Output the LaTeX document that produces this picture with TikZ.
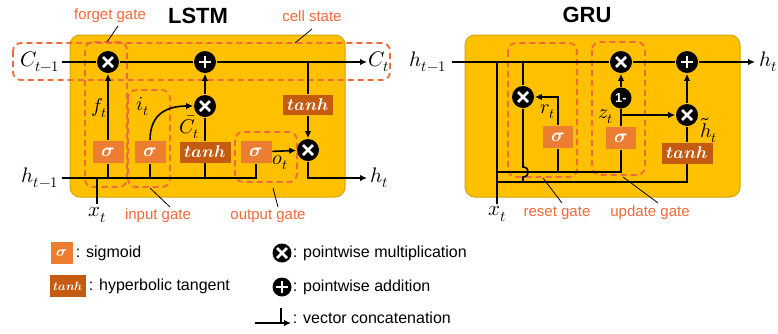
\documentclass[tikz,border=0pt]{standalone}
\usepackage{fontspec}
\usepackage{unicode-math}
\setmainfont{Liberation Sans}
\usetikzlibrary{arrows.meta}
\definecolor{cellbg}{HTML}{FFC000}
\definecolor{cellbd}{HTML}{D9A300}
\definecolor{sigc}{HTML}{ED7D31}
\definecolor{tanc}{HTML}{C55A11}
\definecolor{gatec}{HTML}{F26A3C}
\begin{document}
\begin{tikzpicture}[x=1pt,y=-1pt,
 line width=1.6pt,
 arr/.style={-{Latex[length=7pt,width=6.5pt]}},
 cellbox/.style={fill=cellbg,draw=cellbd,line width=1pt,rounded corners=10pt},
 gatebox/.style={draw=gatec,dash pattern=on 6pt off 4pt,line width=1.8pt,rounded corners=8pt},
 sigbox/.style={fill=sigc,text=white,minimum width=31pt,minimum height=22pt,inner sep=0pt,font=\fontsize{19}{19}\selectfont},
 tanbox/.style={fill=tanc,text=white,minimum width=51pt,minimum height=21pt,inner sep=0pt,font=\fontsize{17}{17}\selectfont},
 multnode/.style={circle,fill=black,minimum size=22pt,inner sep=0pt,path picture={\draw[white,line width=2.6pt] ([shift={(-5pt,-5pt)}]path picture bounding box.center) -- ([shift={(5pt,5pt)}]path picture bounding box.center) ([shift={(-5pt,5pt)}]path picture bounding box.center) -- ([shift={(5pt,-5pt)}]path picture bounding box.center);}},
 plusnode/.style={circle,fill=black,minimum size=22pt,inner sep=0pt,path picture={\draw[white,line width=2.6pt] ([shift={(-6pt,0pt)}]path picture bounding box.center) -- ([shift={(6pt,0pt)}]path picture bounding box.center) ([shift={(0pt,6pt)}]path picture bounding box.center) -- ([shift={(0pt,-6pt)}]path picture bounding box.center);}},
 onenode/.style={circle,fill=black,minimum size=21pt,inner sep=0pt,text=white,font=\bfseries\fontsize{13}{13}\selectfont},
 mlab/.style={inner sep=1pt,font=\fontsize{21}{21}\selectfont},
 slab/.style={inner sep=1pt,font=\fontsize{20}{20}\selectfont},
 glab/.style={inner sep=1pt,text=gatec,font=\fontsize{15}{15}\selectfont},
 ttl/.style={inner sep=1pt,font=\bfseries\fontsize{22}{22}\selectfont},
 leg/.style={inner sep=0pt,anchor=west,font=\fontsize{16}{16}\selectfont},
 ptr/.style={line width=0.8pt}]
\useasboundingbox (0,0) rectangle (778,333);

% ================= LSTM =================
\draw[cellbox] (70,35) rectangle (345,197);
\node[ttl] (tl) at (198,16) {LSTM};
% gates (dashed)
\draw[gatebox] (13,43) rectangle (390,80);
\draw[gatebox] (85,42) rectangle (127,187);
\draw[gatebox] (128,90) rectangle (170,187);
\draw[gatebox] (235,132) rectangle (297,182);

\node[multnode] (fm) at (108,62) {};
\node[plusnode] (pl) at (205,62) {};
\node[multnode] (im) at (205,106) {};
\node[multnode] (om) at (308,150) {};
\node[sigbox] (sf) at (108,152) {$\symbfit{\sigma}$};
\node[sigbox] (si) at (150,152) {$\symbfit{\sigma}$};
\node[tanbox] (ta) at (205,152) {$\symbfit{tanh}$};
\node[sigbox] (so) at (256,152) {$\symbfit{\sigma}$};
\node[tanbox,minimum width=50pt,minimum height=20pt] (tt) at (308,105) {$\symbfit{tanh}$};

\coordinate (cs) at (62,62);
\coordinate (ce) at (367,62);
\coordinate (hs) at (62,178);
\coordinate (he) at (367,178);
\coordinate (xb) at (97,204);

\node[mlab] (lc1) at (40,62) {$C_{t-1}$};
\node[mlab] (lc2) at (379,62) {$C_t$};
\node[mlab] (lh1) at (40,178) {$h_{t-1}$};
\node[mlab] (lh2) at (379,178) {$h_t$};
\node[mlab] (lx) at (97,215) {$x_t$};
\node[slab] (lf) at (99,108) {$f_t$};
\node[slab] (li) at (143,106) {$i_t$};
\node[slab] (lcb) at (189,127) {$\bar{C}_t$};
\node[slab] (lo) at (280,163) {$o_t$};

\draw[arr] (cs) -- (fm) -- (pl) -- (ce);
\draw (hs) -- (hs -| so.south) -- (so.south);
\draw[arr] (sf) -- (fm);
\draw (sf.south) -- (sf.south |- hs);
\draw (si.south) -- (si.south |- hs);
\draw (ta.south) -- (ta.south |- hs);
\draw (xb) -- (xb |- hs);
\draw[arr] (si.north) .. controls +(0,-28) and +(-24,0) .. (im.west);
\draw (ta) -- (im);
\draw[arr] (im) -- (pl);
\draw (tt.north |- pl) -- (tt.north);
\draw[arr] (tt) -- (om);
\draw[arr] (so) -- (om);
\draw[arr] (om) |- (he);

\node[glab] (gf) at (110,16) {forget gate};
\node[glab] (gc) at (312,16) {cell state};
\node[glab] (gi) at (158,216) {input gate};
\node[glab] (go) at (268,216) {output gate};
\coordinate (pf) at (107,42);
\coordinate (pc) at (295,43);
\coordinate (pi) at (150,188);
\coordinate (po) at (273,188);
\draw[ptr] (118,26) -- (pf);
\draw[ptr] (312,29) -- (pc);
\draw[ptr] (170,207) -- (pi);
\draw[ptr] (278,207) -- (po);

% ================= GRU =================
\draw[cellbox] (465,35) rectangle (740,197);
\node[ttl] (tg) at (587,15) {GRU};
\draw[gatebox] (508,43) rectangle (577,177);
\draw[gatebox] (592,42) rectangle (645,175);

\node[multnode] (tm) at (621,62) {};
\node[plusnode] (gp) at (687,62) {};
\node[multnode] (rm) at (523,97) {};
\node[onenode] (o1) at (621,98) {1-};
\node[multnode] (um) at (687,115) {};
\node[sigbox,minimum width=30pt] (rs) at (558,137) {$\symbfit{\sigma}$};
\node[sigbox,minimum width=30pt] (us) at (621,138) {$\symbfit{\sigma}$};
\node[tanbox] (gt) at (687,153) {$\symbfit{tanh}$};

\coordinate (hs2) at (452,62);
\coordinate (he2) at (755,62);
\coordinate (xt2) at (497,62);
\coordinate (xb2) at (497,204);
\coordinate (j1) at (497,172);
\coordinate (j2) at (497,182);
\coordinate (rt) at (523,62);
\coordinate (hpa) at (523,167);
\coordinate (hpb) at (523,177);
\coordinate (rb) at (523,182);

\node[mlab] (gh1) at (428,62) {$h_{t-1}$};
\node[mlab] (gh2) at (768,62) {$h_t$};
\node[mlab] (gx) at (497,214) {$x_t$};
\node[slab] (lr) at (548,112) {$r_t$};
\node[slab] (lz) at (606,117) {$z_t$};
\node[slab] (lht) at (709,130) {$\tilde{h}_t$};

\draw[arr] (hs2) -- (tm) -- (gp) -- (he2);
\draw (xt2) -- (xb2);
\draw (j1) -- (j1 -| us.south) -- (us.south);
\draw (j1 -| rs.south) -- (rs.south);
\draw (j2) -- (j2 -| gt.south) -- (gt.south);
\draw (rt) -- (rm);
\draw (rm) -- (hpa) .. controls +(7,0) and +(7,0) .. (hpb) -- (rb);
\draw[arr] (rs.north) |- (rm);
\draw (us) -- (o1);
\draw[arr] (us.north |- um) -- (um);
\draw[arr] (o1) -- (tm);
\draw (gt) -- (um);
\draw[arr] (um) -- (gp);

\node[glab] (gr) at (557,213) {reset gate};
\node[glab] (gu) at (650,213) {update gate};
\coordinate (pr) at (543,178);
\coordinate (pu) at (623,177);
\draw[ptr] (562,203) -- (pr);
\draw[ptr] (658,203) -- (pu);

% ================= Legend =================
\node[sigbox,minimum width=22pt,minimum height=22pt,font=\fontsize{15}{15}\selectfont] (lsig) at (62,253) {$\symbfit{\sigma}$};
\node[leg] (tsig) at (75,253) {: sigmoid};
\node[tanbox,minimum width=36pt,minimum height=22pt,font=\fontsize{12}{12}\selectfont] (ltan) at (68,286) {$\symbfit{tanh}$};
\node[leg] (ttan) at (88,286) {: hyperbolic tangent};
\node[multnode,minimum size=19pt] (lmul) at (282,253) {};
\node[leg] (tmul) at (292,253) {: pointwise multiplication};
\node[plusnode,minimum size=19pt] (lplu) at (282,287) {};
\node[leg] (tplu) at (292,287) {: pointwise addition};
\coordinate (ca) at (255,323);
\coordinate (cb) at (291,323);
\coordinate (cc) at (281,308);
\draw[arr] (ca) -- (cb);
\draw (cc) -- (cc |- ca);
\node[leg] (tcat) at (292,318) {: vector concatenation};
\end{tikzpicture}
\end{document}
